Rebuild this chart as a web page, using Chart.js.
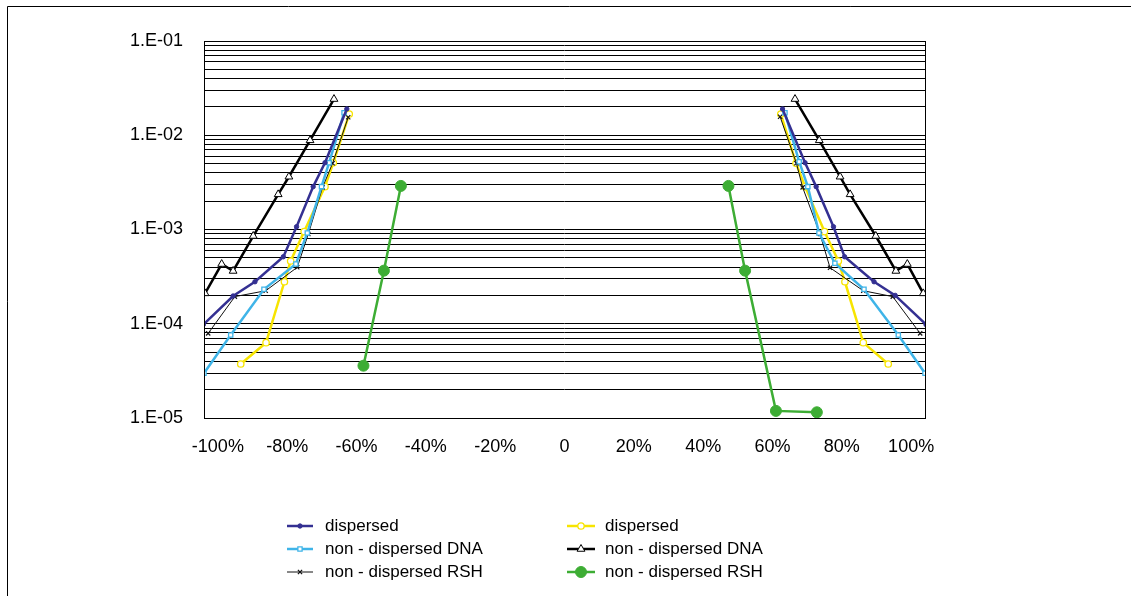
<!DOCTYPE html>
<html>
<head>
<meta charset="utf-8">
<title>dispersed / non-dispersed</title>
<script src="https://cdn.jsdelivr.net/npm/chart.js@4/dist/chart.umd.min.js"></script>
<style>
  html, body { margin: 0; padding: 0; background: #fff; }
  canvas { display: block; }
</style>
</head>
<body>
<canvas id="chart" width="1131" height="596"></canvas>
<script>
// axis ticks
const X_TICKS = [-100, -80, -60, -40, -20, 0, 20, 40, 60, 80, 100];
const X_TICK_LABELS = ['-100%', '-80%', '-60%', '-40%', '-20%', '0', '20%', '40%', '60%', '80%', '100%'];
const Y_DECADES = [1e-5, 1e-4, 1e-3, 1e-2, 1e-1];
const Y_TICK_LABELS = ['1.E-05', '1.E-04', '1.E-03', '1.E-02', '1.E-01'];

// series: left branch then right branch (x in %)
const DISP_A_X_LEFT  = [-104.2, -95.6, -89.3, -81.1, -77.3, -72.5, -69.1, -62.8];
const DISP_A_Y_LEFT  = [9.8e-5, 1.97e-4, 2.79e-4, 5.14e-4, 1.07e-3, 2.85e-3, 5.11e-3, 1.90e-2];
const DISP_A_X_RIGHT = [62.9, 69.4, 72.6, 77.6, 80.8, 89.3, 95.4, 104.3];
const DISP_A_Y_RIGHT = [1.90e-2, 5.11e-3, 2.85e-3, 1.07e-3, 5.14e-4, 2.79e-4, 2.0e-4, 9.8e-5];

const DNA_A_X_LEFT  = [-104.0, -96.3, -86.7, -77.5, -74.2, -70.1, -67.9, -63.6];
const DNA_A_Y_LEFT  = [2.98e-5, 7.6e-5, 2.32e-4, 4.30e-4, 9.2e-4, 2.85e-3, 5.11e-3, 1.73e-2];
const DNA_A_X_RIGHT = [63.6, 67.7, 70.2, 73.4, 78.0, 86.4, 96.3, 104.0];
const DNA_A_Y_RIGHT = [1.73e-2, 5.24e-3, 2.85e-3, 9.2e-4, 4.38e-4, 2.32e-4, 7.6e-5, 2.98e-5];

const RSH_A_X_LEFT  = [-102.8, -95.1, -86.2, -77.1, -73.9, -69.8, -66.9, -62.4];
const RSH_A_Y_LEFT  = [7.9e-5, 1.94e-4, 2.24e-4, 3.97e-4, 8.96e-4, 2.80e-3, 5.04e-3, 1.55e-2];
const RSH_A_X_RIGHT = [62.2, 66.9, 68.7, 73.7, 76.6, 86.2, 94.7, 102.6];
const RSH_A_Y_RIGHT = [1.57e-2, 5.04e-3, 2.80e-3, 8.96e-4, 3.93e-4, 2.24e-4, 1.94e-4, 7.9e-5];

const DISP_B_X_LEFT  = [-93.4, -86.1, -80.8, -79.0, -75.1, -69.1, -66.7, -62.1];
const DISP_B_Y_LEFT  = [3.74e-5, 6.3e-5, 2.79e-4, 4.63e-4, 9.5e-4, 2.85e-3, 5.11e-3, 1.68e-2];
const DISP_B_X_RIGHT = [62.4, 66.8, 69.4, 75.0, 79.0, 80.9, 86.2, 93.4];
const DISP_B_Y_RIGHT = [1.68e-2, 5.04e-3, 2.85e-3, 9.5e-4, 4.63e-4, 2.79e-4, 6.3e-5, 3.74e-5];

const DNA_B_X_LEFT  = [-103.7, -98.9, -95.6, -89.8, -82.6, -79.5, -73.4, -66.5];
const DNA_B_Y_LEFT  = [2.10e-4, 4.30e-4, 3.63e-4, 8.53e-4, 2.36e-3, 3.63e-3, 8.83e-3, 2.42e-2];
const DNA_B_X_RIGHT = [66.5, 73.5, 79.5, 82.4, 89.8, 95.6, 98.9, 103.5];
const DNA_B_Y_RIGHT = [2.42e-2, 8.83e-3, 3.63e-3, 2.36e-3, 8.53e-4, 3.63e-4, 4.30e-4, 2.10e-4];

const RSH_B_X_LEFT  = [-58.0, -52.1, -47.2];
const RSH_B_Y_LEFT  = [3.59e-5, 3.66e-4, 2.90e-3];
const RSH_B_X_RIGHT = [47.3, 52.1, 61.0, 72.8];
const RSH_B_Y_RIGHT = [2.90e-3, 3.66e-4, 1.19e-5, 1.15e-5];

const FONT = 'Arial, "Liberation Sans", sans-serif';

function branches(xl, yl, xr, yr) {
    const pts = xl.map((x, i) => ({ x: x, y: yl[i] }));
    pts.push({ x: 0, y: null }); // break between the two branches
    return pts.concat(xr.map((x, i) => ({ x: x, y: yr[i] })));
}

const datasets = [
    {
        label: 'dispersed',
        data: branches(DISP_A_X_LEFT, DISP_A_Y_LEFT, DISP_A_X_RIGHT, DISP_A_Y_RIGHT),
        borderColor: '#343092', backgroundColor: '#343092', borderWidth: 2.5,
        pointStyle: 'circle', pointRadius: 2.2, pointBorderWidth: 1,
        pointBackgroundColor: '#343092', pointBorderColor: '#343092'
    },
    {
        label: 'non - dispersed DNA',
        data: branches(DNA_A_X_LEFT, DNA_A_Y_LEFT, DNA_A_X_RIGHT, DNA_A_Y_RIGHT),
        borderColor: '#3fb4e8', backgroundColor: '#fff', borderWidth: 2.5,
        pointStyle: 'rect', pointRadius: 3, pointBorderWidth: 1.3,
        pointBackgroundColor: '#fff', pointBorderColor: '#3fb4e8'
    },
    {
        label: 'non - dispersed RSH',
        data: branches(RSH_A_X_LEFT, RSH_A_Y_LEFT, RSH_A_X_RIGHT, RSH_A_Y_RIGHT),
        borderColor: '#111', backgroundColor: '#111', borderWidth: 1,
        pointStyle: 'crossRot', pointRadius: 3, pointBorderWidth: 1.2,
        pointBackgroundColor: '#111', pointBorderColor: '#111'
    },
    {
        label: 'dispersed',
        data: branches(DISP_B_X_LEFT, DISP_B_Y_LEFT, DISP_B_X_RIGHT, DISP_B_Y_RIGHT),
        borderColor: '#f7e400', backgroundColor: '#fff', borderWidth: 2.5,
        pointStyle: 'circle', pointRadius: 3.2, pointBorderWidth: 1.3,
        pointBackgroundColor: '#fff', pointBorderColor: '#f7e400'
    },
    {
        label: 'non - dispersed DNA',
        data: branches(DNA_B_X_LEFT, DNA_B_Y_LEFT, DNA_B_X_RIGHT, DNA_B_Y_RIGHT),
        borderColor: '#000', backgroundColor: '#fff', borderWidth: 2.5,
        pointStyle: 'triangle', pointRadius: 4.5, pointBorderWidth: 1,
        pointBackgroundColor: '#fff', pointBorderColor: '#000'
    },
    {
        label: 'non - dispersed RSH',
        data: branches(RSH_B_X_LEFT, RSH_B_Y_LEFT, RSH_B_X_RIGHT, RSH_B_Y_RIGHT),
        borderColor: '#3dad34', backgroundColor: '#3dad34', borderWidth: 2.5,
        pointStyle: 'circle', pointRadius: 5.5, pointBorderWidth: 1,
        pointBackgroundColor: '#3dad34', pointBorderColor: '#3dad34'
    }
];
datasets.forEach(ds => { ds.tension = 0; ds.fill = false; ds.spanGaps = false; });

// outer frame (top and left edges) and the plot box
const framePlugin = {
    id: 'frame',
    afterDraw(chart) {
        const ctx = chart.ctx;
        const a = chart.chartArea;
        ctx.save();
        ctx.strokeStyle = '#000';
        ctx.lineWidth = 1;
        ctx.beginPath();
        ctx.moveTo(7.5, chart.height);
        ctx.lineTo(7.5, 6.5);
        ctx.lineTo(chart.width, 6.5);
        ctx.stroke();
        ctx.strokeRect(Math.round(a.left) + 0.5, Math.round(a.top) + 0.5,
            Math.round(a.right - a.left), Math.round(a.bottom - a.top));
        ctx.restore();
    }
};

// two-column legend below the plot
const legendPlugin = {
    id: 'twoColLegend',
    afterDraw(chart) {
        const ctx = chart.ctx;
        const cols = [
            { lineX: 287, lineW: 26, textX: 325, items: [0, 1, 2] },
            { lineX: 567, lineW: 28, textX: 605, items: [3, 4, 5] }
        ];
        const rows = [526, 549, 572];
        ctx.save();
        cols.forEach(col => {
            col.items.forEach((di, r) => {
                const ds = chart.data.datasets[di];
                const y = rows[r];
                ctx.strokeStyle = ds.borderColor;
                ctx.lineWidth = ds.borderWidth;
                ctx.beginPath();
                ctx.moveTo(col.lineX, y);
                ctx.lineTo(col.lineX + col.lineW, y);
                ctx.stroke();
                ctx.fillStyle = ds.pointBackgroundColor;
                ctx.strokeStyle = ds.pointBorderColor;
                ctx.lineWidth = ds.pointBorderWidth;
                Chart.helpers.drawPoint(ctx, {
                    pointStyle: ds.pointStyle, radius: ds.pointRadius,
                    borderWidth: ds.pointBorderWidth, rotation: 0
                }, col.lineX + col.lineW / 2, y);
                ctx.fillStyle = '#000';
                ctx.font = '17px ' + FONT;
                ctx.textAlign = 'left';
                ctx.textBaseline = 'middle';
                ctx.fillText(ds.label, col.textX, y);
            });
        });
        ctx.restore();
    }
};

const yGridValues = [];
Y_DECADES.forEach((d, i) => {
    yGridValues.push(d);
    if (i < Y_DECADES.length - 1) {
        for (let m = 2; m <= 9; m++) yGridValues.push(m * d);
    }
});

new Chart(document.getElementById('chart'), {
    type: 'line',
    data: { datasets },
    options: {
        responsive: false,
        animation: false,
        events: [],
        layout: { padding: { top: 41, right: 206, left: 0, bottom: 0 } },
        plugins: {
            legend: { display: false },
            tooltip: { enabled: false }
        },
        scales: {
            x: {
                type: 'linear',
                min: -104,
                max: 104,
                afterBuildTicks: s => { s.ticks = X_TICKS.map(v => ({ value: v })); },
                afterFit: s => { s.height = 178; },
                grid: { display: false },
                border: { display: false },
                ticks: {
                    autoSkip: false,
                    maxRotation: 0,
                    padding: 10,
                    color: '#000',
                    font: { family: FONT, size: 18 },
                    callback: (v) => {
                        const i = X_TICKS.indexOf(v);
                        return i >= 0 ? X_TICK_LABELS[i] : '';
                    }
                }
            },
            y: {
                type: 'logarithmic',
                min: Y_DECADES[0],
                max: Y_DECADES[Y_DECADES.length - 1],
                afterBuildTicks: s => { s.ticks = yGridValues.map(v => ({ value: v })); },
                afterFit: s => { s.width = 204; },
                grid: { color: '#000', lineWidth: 1, drawTicks: false },
                border: { display: false },
                ticks: {
                    autoSkip: false,
                    padding: 21,
                    color: '#000',
                    font: { family: FONT, size: 18 },
                    callback: (v) => {
                        const i = Y_DECADES.findIndex(d => Math.abs(d - v) / d < 1e-6);
                        return i >= 0 ? Y_TICK_LABELS[i] : '';
                    }
                }
            }
        }
    },
    plugins: [framePlugin, legendPlugin]
});
</script>
</body>
</html>
